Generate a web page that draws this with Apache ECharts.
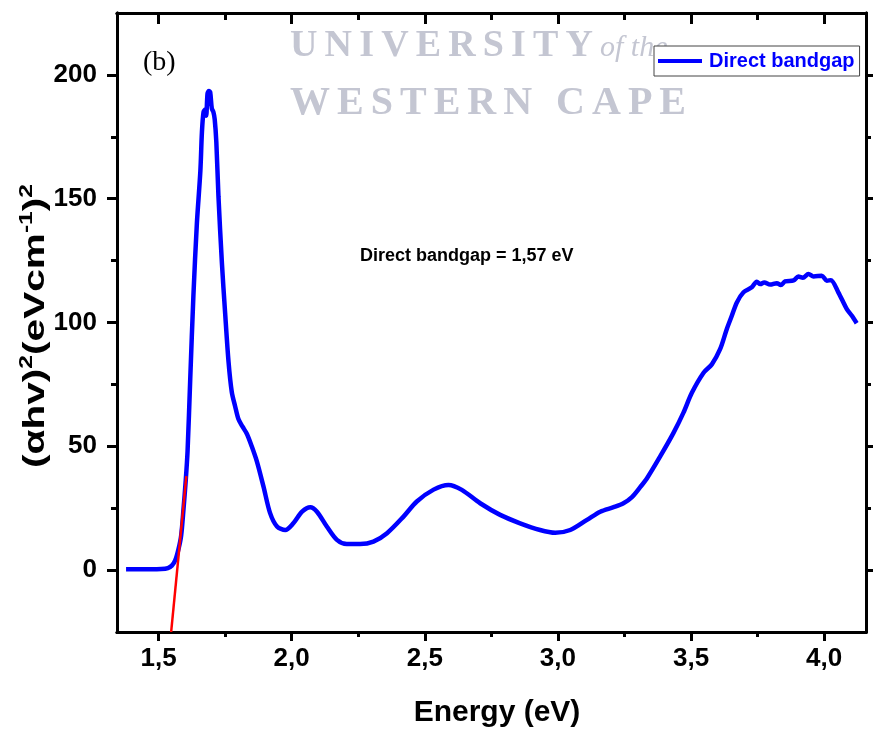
<!DOCTYPE html>
<html>
<head>
<meta charset="utf-8">
<script src="https://cdn.jsdelivr.net/npm/echarts@6/dist/echarts.min.js"></script>
<style>
  html, body { margin: 0; padding: 0; background: #fff; }
  #chart { width: 873px; height: 734px; }
</style>
</head>
<body>
<div id="chart"></div>
<script>
// Photon energy (eV)
const energy = [
  1.378, 1.42, 1.47, 1.51, 1.535, 1.55, 1.563, 1.575, 1.585, 1.594,
  1.602, 1.609, 1.619, 1.631, 1.644, 1.657, 1.663, 1.669, 1.675, 1.679,
  1.684, 1.689, 1.694, 1.700, 1.706, 1.711, 1.717, 1.725, 1.738, 1.750,
  1.763, 1.775, 1.788, 1.800, 1.815, 1.832, 1.850, 1.869, 1.894, 1.919,
  1.945, 1.976, 2.007, 2.039, 2.070, 2.095, 2.132, 2.170, 2.207, 2.257,
  2.307, 2.358, 2.420, 2.470, 2.533, 2.589, 2.639, 2.708, 2.783, 2.858,
  2.933, 2.990, 3.046, 3.109, 3.159, 3.209, 3.246, 3.278, 3.309, 3.334,
  3.384, 3.434, 3.471, 3.503, 3.547, 3.578, 3.609, 3.634, 3.653, 3.672,
  3.697, 3.728, 3.747, 3.760, 3.775, 3.797, 3.822, 3.837, 3.853, 3.885,
  3.903, 3.920, 3.941, 3.960, 3.991, 4.010, 4.025, 4.053, 4.085, 4.104,
  4.122
];
// (alpha h nu)^2 values
const alphaHvSq = [
  0.3, 0.3, 0.3, 0.4, 0.8, 1.8, 4, 8.5, 14, 25,
  36, 48, 77, 111, 140, 161, 177, 185, 186, 183.5,
  192.5, 193.5, 193, 186.5, 185, 182, 173, 151, 124, 104,
  84, 72, 66, 61, 58, 55, 50, 44, 33.8, 23,
  17.6, 16.2, 19, 23.6, 25.4, 23.6, 17.6, 12.2, 10.5, 10.5,
  11.5, 14.9, 21.6, 27.7, 32.5, 34.4, 32.4, 27, 22.3, 18.9,
  16.2, 15.1, 16.2, 20.3, 23.6, 25.4, 27, 29.5, 33.5, 37,
  45.9, 55.4, 63.5, 71.6, 79.7, 83.1, 89.2, 97.3, 102.7, 108.1,
  112.2, 114.2, 116.5, 115.5, 116.2, 115.3, 115.9, 115.1, 116.6, 117,
  118.6, 118.1, 119.6, 118.6, 118.9, 116.9, 117.1, 112.2, 105.4, 102.7,
  99.7
];

// Tauc extrapolation: x-intercept is the band gap, slope of the linear edge
const BANDGAP = 1.57;
const EDGE_SLOPE = 1105;
const tangentY = [-25, 38];

// Axis ranges and ticks
const X_MIN = 1.344, X_MAX = 4.157;
const Y_MIN = -25, Y_MAX = 225;
const xMajor = [1.5, 2.0, 2.5, 3.0, 3.5, 4.0];
const xMinor = [1.75, 2.25, 2.75, 3.25, 3.75];
const yMajor = [0, 50, 100, 150, 200];
const yMinor = [25, 75, 125, 175];

const seriesName = 'Direct bandgap';
const FONT = '"Liberation Sans", Arial, sans-serif';
const SERIF = '"Liberation Serif", "Times New Roman", serif';

const curve = energy.map((e, i) => [e, alphaHvSq[i]]);
const tangent = tangentY.map(y => [BANDGAP + y / EDGE_SLOPE, y]);
const comma = v => v.toFixed(1).replace('.', ',');

// Letter-spaced watermark text
const measureCtx = document.createElement('canvas').getContext('2d');
function spacedText(str, x, y, font, width, fill) {
  measureCtx.font = font;
  const chars = str.split('');
  const natural = chars.reduce((s, c) => s + measureCtx.measureText(c).width, 0);
  const gap = (width - natural) / (chars.length - 1);
  let cx = x;
  return chars.map(ch => {
    const el = { type: 'text', x: cx, y: y, z: 1, silent: true,
      style: { text: ch, font: font, fill: fill, textVerticalAlign: 'middle' } };
    cx += measureCtx.measureText(ch).width + gap;
    return el;
  });
}
const wmColor = '#c4c6d2';
const watermark = [].concat(
  spacedText('UNIVERSITY', 290, 46, 'bold 38px ' + SERIF, 303, wmColor),
  [{ type: 'text', x: 600, y: 48, z: 1, silent: true,
     style: { text: 'of the', font: 'italic 30px ' + SERIF, fill: wmColor, textVerticalAlign: 'middle' } }],
  spacedText('WESTERN CAPE', 290, 104, 'bold 40px ' + SERIF, 396, wmColor)
);

const axisLine = { show: true, onZero: false, lineStyle: { color: '#000', width: 3 } };
function xAxisDef(pos, values, len, inside, labels) {
  return {
    type: 'value', position: pos, min: X_MIN, max: X_MAX,
    axisLine: axisLine, splitLine: { show: false },
    axisTick: { show: true, inside: inside, length: len, customValues: values,
                lineStyle: { color: '#000', width: 3 } },
    axisLabel: labels ? { show: true, customValues: values, formatter: comma, margin: 14,
                          color: '#000', fontFamily: FONT, fontWeight: 'bold', fontSize: 26 }
                      : { show: false }
  };
}
function yAxisDef(pos, values, len, inside, labels) {
  return {
    type: 'value', position: pos, min: Y_MIN, max: Y_MAX,
    axisLine: axisLine, splitLine: { show: false },
    axisTick: { show: true, inside: inside, length: len, customValues: values,
                lineStyle: { color: '#000', width: 3 } },
    axisLabel: labels ? { show: true, customValues: values, margin: 20,
                          color: '#000', fontFamily: FONT, fontWeight: 'bold', fontSize: 26 }
                      : { show: false }
  };
}

const chart = echarts.init(document.getElementById('chart'), null, { renderer: 'canvas' });
chart.setOption({
  backgroundColor: '#fff',
  animation: false,
  grid: { left: 117, right: 7, top: 13, bottom: 102, containLabel: false },
  xAxis: [
    xAxisDef('bottom', xMajor, 9, false, true),
    xAxisDef('bottom', xMinor, 5, false, false),
    xAxisDef('top', xMajor, 11, true, false),
    xAxisDef('top', xMinor, 7, true, false)
  ],
  yAxis: [
    yAxisDef('left', yMajor, 10, false, true),
    yAxisDef('left', yMinor, 6, false, false),
    yAxisDef('right', yMajor, 7, false, false),
    yAxisDef('right', yMinor, 5, false, false)
  ],
  legend: {
    data: [seriesName],
    left: 654, top: 46,
    orient: 'horizontal',
    icon: 'rect', itemWidth: 44, itemHeight: 4, itemGap: 0,
    padding: [5, 5, 5, 4],
    backgroundColor: '#fff',
    borderColor: '#444', borderWidth: 1, borderRadius: 0,
    textStyle: { color: '#0000ff', fontFamily: FONT, fontWeight: 'bold', fontSize: 20, padding: [0, 0, 0, 2] },
    z: 5
  },
  series: [
    {
      name: seriesName, type: 'line', data: curve,
      xAxisIndex: 0, yAxisIndex: 0,
      showSymbol: false, smooth: 0.3,
      lineStyle: { color: '#0000ff', width: 4.5 },
      itemStyle: { color: '#0000ff' },
      z: 3
    },
    {
      name: 'tangent', type: 'line', data: tangent,
      xAxisIndex: 0, yAxisIndex: 0,
      showSymbol: false,
      lineStyle: { color: '#ff0000', width: 2.5 },
      z: 4
    }
  ],
  graphic: watermark.concat([
    { type: 'text', x: 143, y: 63, z: 6,
      style: { text: '(b)', font: 'normal 28px ' + SERIF, fill: '#000', textVerticalAlign: 'middle' } },
    { type: 'text', x: 360, y: 256, z: 6,
      style: { text: 'Direct bandgap = ' + BANDGAP.toFixed(2).replace('.', ',') + ' eV',
               font: 'bold 18px ' + FONT, fill: '#000', textVerticalAlign: 'middle' } },
    { type: 'text', x: 497, y: 713, z: 6,
      style: { text: 'Energy (eV)', font: 'bold 30px ' + FONT, fill: '#000',
               textAlign: 'center', textVerticalAlign: 'middle' } },
    { type: 'text', x: 36, y: 326, z: 6, rotation: Math.PI / 2, scaleX: 1.45, scaleY: 1.05,
      style: {
        text: '{m|(αhv)}{s|2}{m|(eVcm}{s|-1}{m|)}{s|2}',
        textAlign: 'center', textVerticalAlign: 'middle',
        rich: {
          m: { font: 'bold 28px ' + FONT, fill: '#000', lineHeight: 34 },
          s: { font: 'bold 17px ' + FONT, fill: '#000', lineHeight: 34, verticalAlign: 'top' }
        }
      } }
  ])
});
</script>
</body>
</html>
